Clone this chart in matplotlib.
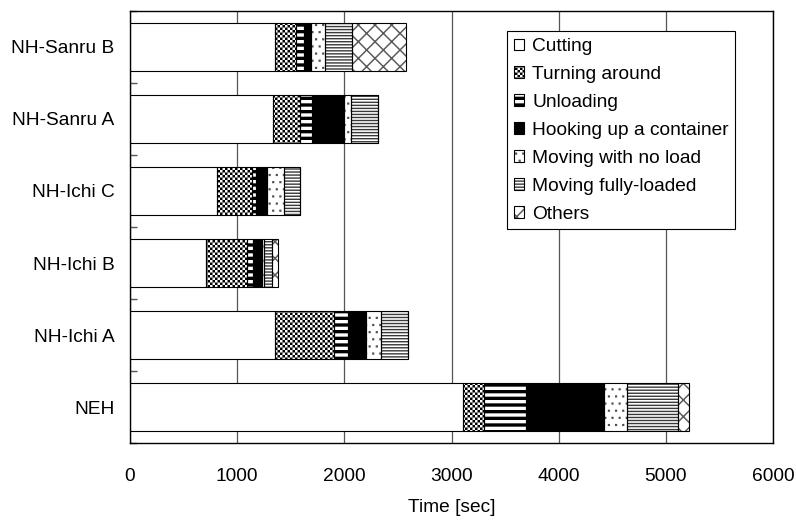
import numpy as np
import matplotlib
matplotlib.use('Agg')
import matplotlib.pyplot as plt
import matplotlib.hatch as mhatch
from matplotlib.path import Path
from matplotlib.patches import Rectangle

# ---------------- data ----------------
categories = ['NH-Sanru B', 'NH-Sanru A', 'NH-Ichi C', 'NH-Ichi B', 'NH-Ichi A', 'NEH']
series = ['Cutting', 'Turning around', 'Unloading', 'Hooking up a container',
          'Moving with no load', 'Moving fully-loaded', 'Others']
cutting = [1350, 1330, 810, 710, 1355, 3106]
turning = [201, 259, 333, 381, 545, 199]
unloading = [69, 109, 35, 61, 134, 389]
hooking = [72, 296, 99, 79, 168, 733]
no_load = [130, 68, 162, 15, 144, 209]
fully_loaded = [250, 253, 144, 78, 246, 473]
others = [504, 0, 0, 53, 0, 103]
x_ticks = [0, 1000, 2000, 3000, 4000, 5000, 6000]
x_label = 'Time [sec]'

# ---------------- custom filled hatch patterns ----------------
def _rect(x0, y0, x1, y1):
    return [(x0, y0), (x1, y0), (x1, y1), (x0, y1)]


class _PolyHatch(mhatch.HatchPatternBase):
    char = '?'

    def __init__(self, hatch, density):
        n = hatch.count(self.char) if hatch else 0
        self.polys = self.build(n) if n else []
        self.num_vertices = sum(len(p) + 1 for p in self.polys)

    def build(self, n):
        return []

    def set_vertices_and_codes(self, vertices, codes):
        i = 0
        for p in self.polys:
            k = len(p)
            vertices[i:i + k] = p
            vertices[i + k] = p[0]
            codes[i] = Path.MOVETO
            codes[i + 1:i + k] = Path.LINETO
            codes[i + k] = Path.CLOSEPOLY
            i += k + 1


class Checker(_PolyHatch):
    char = 'O'

    def build(self, n):
        c = 1.0 / (2 * n)
        return [_rect(i * c, j * c, (i + 1) * c, (j + 1) * c)
                for i in range(2 * n) for j in range(2 * n) if (i + j) % 2 == 0]


class ThickStripes(_PolyHatch):
    char = '-'

    def build(self, n):
        p = 1.0 / n
        return [_rect(-0.01, k * p, 1.01, k * p + 0.5 * p) for k in range(n)]


class ThinLines(_PolyHatch):
    char = '|'

    def build(self, n):
        p = 1.0 / n
        t = 0.014
        return [_rect(-0.01, k * p, 1.01, k * p + t) for k in range(n)]


class Dots(_PolyHatch):
    char = '.'

    def build(self, n):
        s = 0.022
        out = []
        for r in range(n):
            for c in range(n):
                x = (c + 0.25 + 0.5 * (r % 2)) / n
                y = (r + 0.5) / n
                out.append(_rect(x - s / 2, y - s / 2, x + s / 2, y + s / 2))
        return out


class Cross(_PolyHatch):
    char = 'x'

    def build(self, n):
        h = 0.015 * np.sqrt(2) / 2
        out = []
        for k in range(-n, n + 1):
            c = k / n
            out.append([(-0.05, -0.05 + c - h), (1.05, 1.05 + c - h),
                        (1.05, 1.05 + c + h), (-0.05, -0.05 + c + h)])
        for k in range(0, 2 * n + 1):
            c = k / n
            out.append([(-0.05, 0.05 + c - h), (1.05, -1.05 + c - h),
                        (1.05, -1.05 + c + h), (-0.05, 0.05 + c + h)])
        return out


mhatch._hatch_types[:] = [Checker, ThickStripes, ThinLines, Dots, Cross]

# ---------------- figure ----------------
plt.rcParams['font.family'] = ['Liberation Sans', 'DejaVu Sans']
plt.rcParams['hatch.linewidth'] = 0.0
FS = 13.8

fig = plt.figure(figsize=(7.96, 5.21), dpi=100)
fig.subplots_adjust(left=130 / 796, right=773 / 796, bottom=1 - 443.3 / 521, top=1 - 10.7 / 521)
ax = fig.add_subplot(111)

data = [cutting, turning, unloading, hooking, no_load, fully_loaded, others]
styles = [
    dict(fc='white', hatch=None, hc='black'),
    dict(fc='white', hatch='O' * 20, hc='black'),
    dict(fc='white', hatch='-' * 15, hc='black'),
    dict(fc='black', hatch=None, hc='black'),
    dict(fc='white', hatch='.' * 14, hc='#505050'),
    dict(fc='white', hatch='|' * 33, hc='#3a3a3a'),
    dict(fc='white', hatch='x' * 6, hc='#5a5a5a'),
]

y = np.arange(len(categories))
left = np.zeros(len(categories))
bar_h = 0.667
for vals, st in zip(data, styles):
    vals = np.array(vals, dtype=float)
    ax.barh(y, vals, left=left, height=bar_h, color=st['fc'], edgecolor=st['hc'],
            linewidth=0, hatch=st['hatch'], zorder=2)
    ax.barh(y, vals, left=left, height=bar_h, fill=False, edgecolor='black',
            linewidth=0.8, zorder=3)
    left += vals

ax.set_xlim(0, 6000)
ax.set_ylim(len(categories) - 0.5, -0.5)
ax.set_xticks(x_ticks)
ax.set_xticklabels([str(t) for t in x_ticks], fontsize=FS)
ax.set_yticks(y)
ax.set_yticklabels(categories, fontsize=FS)
ax.set_yticks(np.arange(len(categories) + 1) - 0.5, minor=True)
ax.tick_params(axis='x', which='major', length=0, pad=18)
ax.tick_params(axis='y', which='major', length=0, pad=11)
ax.tick_params(axis='y', which='minor', direction='in', length=5, width=1, color='#555555')
ax.set_axisbelow(True)
ax.grid(axis='x', color='#555555', linewidth=0.9)
ax.grid(axis='y', visible=False)
for sp in ax.spines.values():
    sp.set_color('black')
    sp.set_linewidth(1.0)
ax.set_xlabel(x_label, fontsize=FS, labelpad=10)

handles = []
for st in styles:
    h1 = Rectangle((0, 0), 1, 1, facecolor=st['fc'], edgecolor=st['hc'], linewidth=0,
                   hatch=st['hatch'])
    h2 = Rectangle((0, 0), 1, 1, fill=False, edgecolor='black', linewidth=0.8)
    handles.append((h1, h2))
leg = ax.legend(handles, series, loc='upper left', bbox_to_anchor=(0.586, 0.952),
                borderaxespad=0, fontsize=FS, handlelength=0.57, handleheight=0.57,
                handletextpad=0.4, borderpad=0.35, labelspacing=0.57,
                fancybox=False, framealpha=1, edgecolor='black', shadow=False)
leg.get_frame().set_linewidth(0.8)
leg.set_zorder(5)

fig.savefig('out.png', dpi=100, facecolor='white')
